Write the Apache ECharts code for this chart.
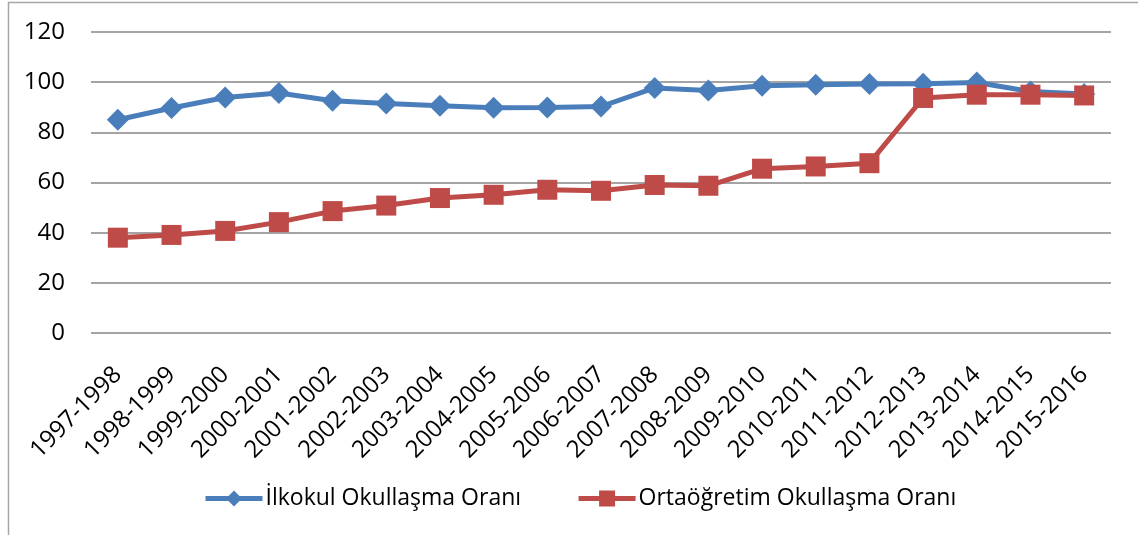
<!DOCTYPE html>
<html lang="tr">
<head>
    <meta charset="utf-8">
    <title>Okullaşma Oranları</title>
    <script src="https://cdn.jsdelivr.net/npm/echarts@6/dist/echarts.min.js"></script>
    <style>
        html, body { margin: 0; padding: 0; background: #fff; }
    </style>
</head>
<body>
<div id="main" style="width: 1138px;height:535px;"></div>

<script type="text/javascript">
    var years = ['1997-1998', '1998-1999', '1999-2000', '2000-2001', '2001-2002', '2002-2003',
        '2003-2004', '2004-2005', '2005-2006', '2006-2007', '2007-2008', '2008-2009',
        '2009-2010', '2010-2011', '2011-2012', '2012-2013', '2013-2014', '2014-2015', '2015-2016'];
    var ilkokul = [85.0, 89.7, 93.9, 95.7, 92.6, 91.5, 90.6, 89.8, 89.9, 90.3,
        97.7, 96.7, 98.6, 99.0, 99.3, 99.4, 99.9, 96.3, 95.3];
    var ortaogretim = [38.0, 39.1, 40.7, 44.2, 48.6, 50.8, 53.8, 55.1, 57.1, 56.7,
        59.0, 58.7, 65.5, 66.4, 67.7, 93.7, 95.0, 95.0, 94.7];
    var yTicks = [0, 20, 40, 60, 80, 100, 120];

    var myChart = echarts.init(document.getElementById('main'));
    var font = 'Open Sans';

    var option = {
        animation: false,
        backgroundColor: '#fff',
        textStyle: { fontFamily: font },
        graphic: [{
            // chart frame (left + top edges visible)
            type: 'polyline',
            shape: { points: [[8.5, 535], [8.5, 2.5], [1138, 2.5]] },
            style: { stroke: '#a6a6a6', lineWidth: 1.5, fill: null }
        }],
        grid: { left: 91, right: 27, top: 32, bottom: 202 },
        legend: {
            top: 482,
            left: 198,
            itemWidth: 57,
            itemHeight: 20,
            itemGap: 55,
            lineStyle: { width: 5 },
            textStyle: { fontFamily: font, fontSize: 23, color: '#000', padding: [0, 0, 0, -2] },
            data: ['İlkokul Okullaşma Oranı', 'Ortaöğretim Okullaşma Oranı']
        },
        xAxis: {
            type: 'category',
            data: years,
            boundaryGap: true,
            axisLine: { show: false },
            axisTick: { show: false },
            axisLabel: {
                rotate: 45,
                interval: 0,
                margin: 38,
                fontSize: 24,
                color: '#000',
                fontFamily: font
            }
        },
        yAxis: {
            type: 'value',
            min: yTicks[0],
            max: yTicks[yTicks.length - 1],
            interval: yTicks[1] - yTicks[0],
            axisLine: { show: false },
            axisTick: { show: false },
            axisLabel: { fontSize: 24, color: '#000', margin: 26, fontFamily: font },
            splitLine: { lineStyle: { color: '#868686', width: 1.5 } }
        },
        series: [{
            name: 'İlkokul Okullaşma Oranı',
            type: 'line',
            data: ilkokul,
            symbol: 'diamond',
            symbolSize: [22, 22],
            lineStyle: { color: '#4a7ebb', width: 5 },
            itemStyle: { color: '#4a7ebb' }
        }, {
            name: 'Ortaöğretim Okullaşma Oranı',
            type: 'line',
            data: ortaogretim,
            symbol: 'rect',
            symbolSize: [20, 20],
            lineStyle: { color: '#be4b48', width: 5 },
            itemStyle: { color: '#be4b48' }
        }]
    };

    option && myChart.setOption(option);
</script>
</body>
</html>
